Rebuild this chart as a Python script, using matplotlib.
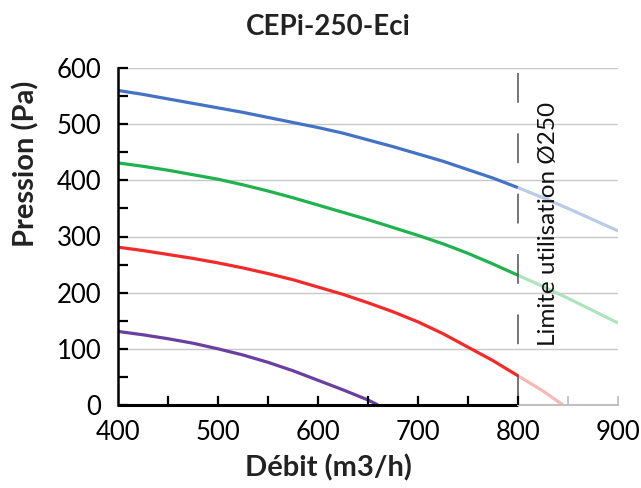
import matplotlib.pyplot as plt
import numpy as np

plt.rcParams['font.family'] = ['Lato', 'DejaVu Sans']

# flow (m3/h) and pressure (Pa)
x_full = [400, 425, 450, 475, 500, 525, 550, 575, 600, 625, 650, 675, 700, 725, 750, 775, 800]
blue = [560, 553, 545, 537, 529, 521, 512, 503, 494, 484, 472, 460, 447, 434, 419, 404, 387]
green = [431, 425, 418, 410, 402, 392, 381, 369, 356, 343, 330, 316, 302, 287, 270, 251, 231]
red = [281, 275, 268, 261, 253, 244, 234, 223, 210, 197, 182, 166, 148, 127, 103, 79, 52]
x_purple = [400, 425, 450, 475, 500, 525, 550, 575, 600, 625, 650, 660]
purple = [131, 125, 118, 110, 100, 89, 76, 61, 44, 27, 9, 0]

# beyond the Ø250 limit (faded)
x_ext = [800, 825, 850, 875, 900]
blue_ext = [387, 369, 350, 330, 310]
green_ext = [231, 211, 190, 168, 146]
x_red_ext = [800, 825, 845]
red_ext = [52, 25, 0]

fig = plt.figure(figsize=(6.41, 4.88), dpi=100)
ax = fig.add_axes([118 / 641, 83 / 488, 500 / 641, 337 / 488])

# grid
for v in range(100, 601, 100):
    ax.axhline(v, color='#c8c8c8', lw=1, zorder=0)

lw = 2.3
ax.plot(x_full, blue, color='#4472c4', lw=lw, solid_capstyle='butt')
ax.plot(x_full, green, color='#1fb24e', lw=lw, solid_capstyle='butt')
ax.plot(x_full, red, color='#f22a2a', lw=lw, solid_capstyle='butt')
ax.plot(x_purple, purple, color='#6a3fa0', lw=lw, solid_capstyle='butt')
ax.plot(x_ext, blue_ext, color='#b8cce8', lw=lw, solid_capstyle='butt')
ax.plot(x_ext, green_ext, color='#aee3bf', lw=lw, solid_capstyle='butt')
ax.plot(x_red_ext, red_ext, color='#f7b8b8', lw=lw, solid_capstyle='butt')

# limit line
ax.plot([800, 800], [591, 0], color='#505050', lw=1.1, dashes=(19.5, 20), zorder=3)
ax.text(830, 322, 'Limite utilisation Ø250', rotation=90, ha='center', va='center',
        fontsize=17.5, color='#111111')

ax.set_xlim(400, 900)
ax.set_ylim(0, 600)
for s in ['top', 'right', 'bottom']:
    ax.spines[s].set_visible(False)
ax.spines['left'].set_linewidth(1.8)
ax.spines['left'].set_color('black')

# bottom axis: black to 800, grey beyond
ax.plot([400, 800], [0, 0], color='black', lw=2.2, clip_on=False, zorder=4, solid_capstyle='butt')
ax.plot([800, 900], [0, 0], color='#c0c0c0', lw=1.5, clip_on=False, zorder=4)
for t in range(450, 801, 50):
    ax.plot([t, t], [0, 14], color='black', lw=1.6, zorder=4)
for t in [850, 900]:
    ax.plot([t, t], [0, 14], color='#c0c0c0', lw=1.3, zorder=4, clip_on=False)

ax.set_xticks(range(400, 901, 100))
ax.set_yticks(range(0, 601, 100))
ax.set_yticks(range(50, 600, 100), minor=True)
ax.tick_params(axis='x', length=0, labelsize=18.5, pad=11)
ax.tick_params(axis='y', which='both', direction='in', length=7, width=1.6,
               labelsize=18.5, pad=12)

fig.text(328 / 641, 1 - 27 / 488, 'CEPi-250-Eci', ha='center', va='center',
         fontsize=20, fontweight='bold', color='#222222')
fig.text(328 / 641, 1 - 468 / 488, 'Débit (m3/h)', ha='center', va='center',
         fontsize=21, fontweight='bold', color='#222222')
fig.text(26 / 641, 1 - 164 / 488, 'Pression (Pa)', ha='center', va='center',
         rotation=90, fontsize=21, fontweight='bold', color='#222222')

fig.savefig('out.png', dpi=100)
